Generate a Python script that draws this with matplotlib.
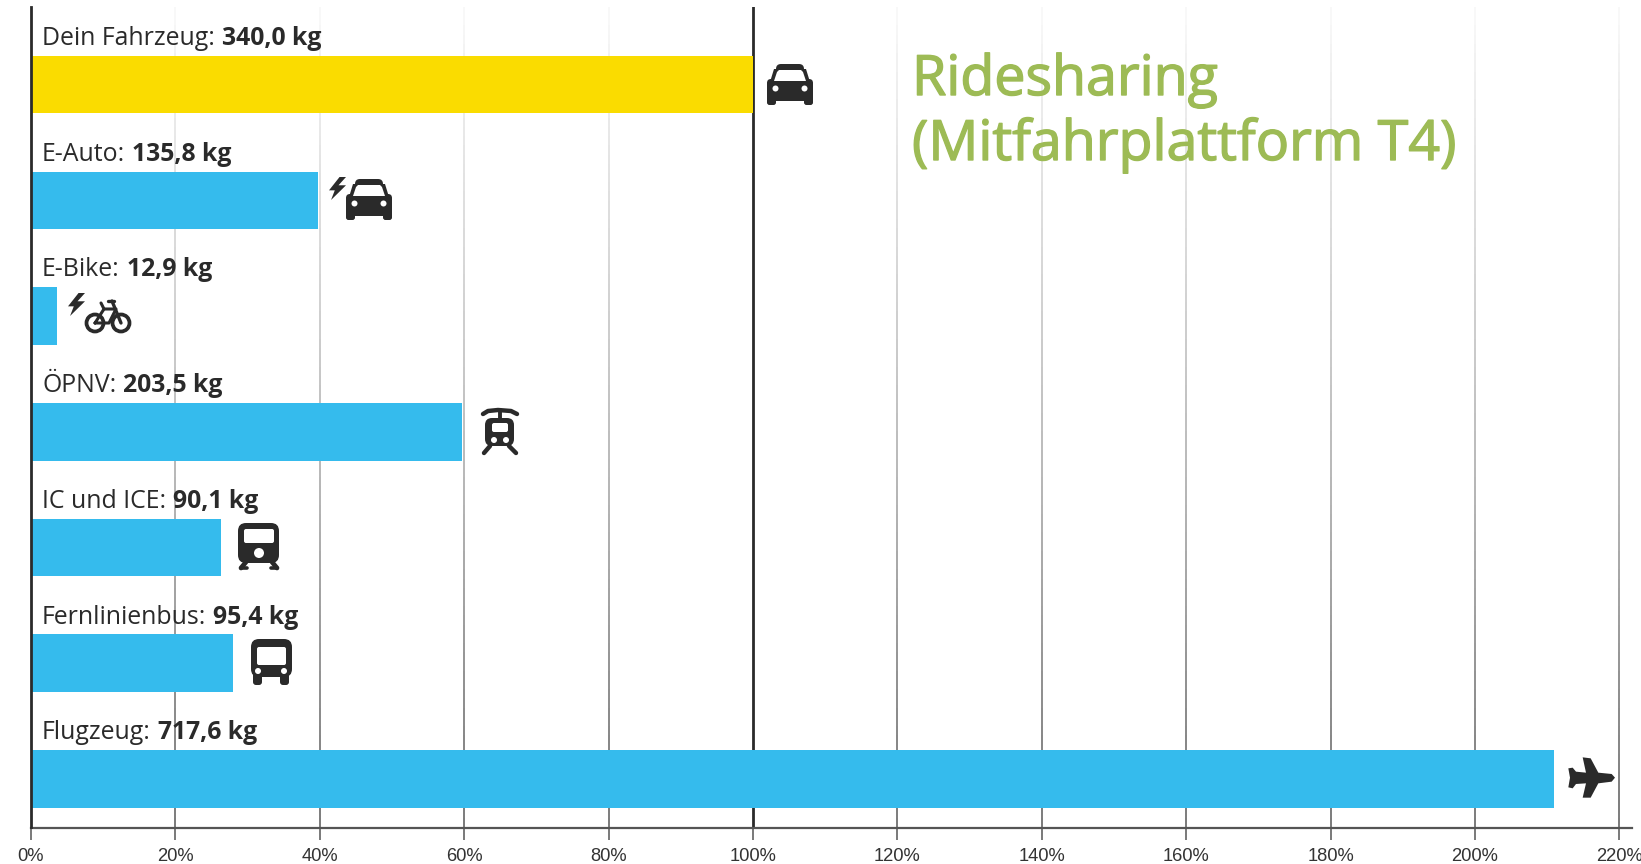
import numpy as np
import matplotlib
matplotlib.use("Agg")
import matplotlib.pyplot as plt
import matplotlib.patheffects as pe
from matplotlib.collections import LineCollection
from matplotlib.patches import Polygon, Circle, FancyBboxPatch

categories = ["Dein Fahrzeug", "E-Auto", "E-Bike", "ÖPNV", "IC und ICE", "Fernlinienbus", "Flugzeug"]
kg_values = [340.0, 135.8, 12.9, 203.5, 90.1, 95.4, 717.6]
kg_labels = ["340,0 kg", "135,8 kg", "12,9 kg", "203,5 kg", "90,1 kg", "95,4 kg", "717,6 kg"]
percent_values = [100.0, 39.75, 3.65, 59.7, 26.35, 28.0, 211.0]
bar_colors = ["#FADC00", "#35BBED", "#35BBED", "#35BBED", "#35BBED", "#35BBED", "#35BBED"]
x_ticks = list(range(0, 221, 20))
x_tick_labels = [f"{t}%" for t in x_ticks]
title_lines = ["Ridesharing", "(Mitfahrplattform T4)"]

W, H = 1641, 864
DARK = "#2a2a2a"
fig = plt.figure(figsize=(W / 100, H / 100), dpi=100, facecolor="white")

L, T, B = 31, 7, 827.5
R = 1632
ax = fig.add_axes([L / W, 1 - B / H, (R - L) / W, (B - T) / H])
ax.set_xlim(0, (R - L) / 7.22)
ax.set_ylim(B, T)
for s in ["top", "right"]:
    ax.spines[s].set_visible(False)
ax.spines["left"].set_color(DARK)
ax.spines["left"].set_linewidth(2.0)
ax.spines["left"].set_zorder(6)
ax.spines["bottom"].set_color("#555555")
ax.spines["bottom"].set_linewidth(1.6)
ax.set_yticks([])
ax.set_xticks(x_ticks)
ax.set_xticklabels(x_tick_labels, fontsize=13.2, family="Liberation Sans", color="#333333")
ax.tick_params(axis="x", length=8.5, width=1.1, color="#555555", pad=6.5)
ax.patch.set_alpha(0)

ys = np.linspace(T, B, 90)
for t in x_ticks[1:]:
    if t == 100:
        continue
    segs = [[(t, ys[i]), (t, ys[i + 1])] for i in range(len(ys) - 1)]
    frac = (ys[:-1] - T) / (B - T)
    g = np.interp(frac, [0, 0.08, 0.3, 0.6, 0.85, 1.0], [0.97, 0.92, 0.80, 0.62, 0.42, 0.33])
    ax.add_collection(LineCollection(segs, colors=[(v, v, v) for v in g], linewidths=1.1, zorder=1))
ax.axvline(100, color=DARK, lw=2.0, zorder=2)

row0_top, row_step, bar_h = 56, 115.7, 57.5
y_positions = [row0_top + bar_h / 2 + i * row_step for i in range(len(categories))]
ax.barh(y_positions, percent_values, height=bar_h, color=bar_colors, zorder=3)

fig.canvas.draw()
rend = fig.canvas.get_renderer()
for i, (cat, lab) in enumerate(zip(categories, kg_labels)):
    yb = 1 - (45 + i * row_step) / H
    t1 = fig.text(42 / W, yb, cat + ":", fontsize=17.9, family="Open Sans", color=DARK, va="baseline", zorder=8)
    ext = t1.get_window_extent(rend)
    fig.text((ext.x1 + 7) / W, yb, lab, fontsize=17.8, family="Open Sans", weight="bold", color=DARK, va="baseline", zorder=8)

GREEN = "#9DBB55"
thick = [pe.withStroke(linewidth=1.0, foreground=GREEN)]
fig.text(912 / W, 1 - 95 / H, title_lines[0], fontsize=40, family="Open Sans", color=GREEN, va="baseline", path_effects=thick)
fig.text(912 / W, 1 - 160 / H, title_lines[1], fontsize=40, family="Open Sans", color=GREEN, va="baseline", path_effects=thick)

ov = fig.add_axes([0, 0, 1, 1], zorder=10)
ov.set_xlim(0, W)
ov.set_ylim(H, 0)
ov.axis("off")
ov.patch.set_alpha(0)


def rrect(x0, y0, x1, y1, r, color=DARK):
    ov.add_patch(FancyBboxPatch((x0 + r, y0 + r), x1 - x0 - 2 * r, y1 - y0 - 2 * r,
                                boxstyle=f"round,pad={r},rounding_size={r}", fc=color, ec="none"))


def poly(pts, color=DARK):
    ov.add_patch(Polygon(pts, closed=True, fc=color, ec="none"))


def circ(x, y, r, color=DARK):
    ov.add_patch(Circle((x, y), r, fc=color, ec="none"))


def car(x0, y0):
    X = lambda v: x0 + v
    Y = lambda v: y0 + v
    rrect(X(0), Y(30), X(9), Y(41), 2.5)
    rrect(X(37), Y(30), X(46), Y(41), 2.5)
    rrect(X(0), Y(15), X(46), Y(37), 4)
    rrect(X(9), Y(0), X(37), Y(12), 5)
    poly([(X(3), Y(18)), (X(7), Y(5)), (X(39), Y(5)), (X(43), Y(18))])
    poly([(X(7), Y(17)), (X(10), Y(8)), (X(12), Y(6)), (X(34), Y(6)), (X(36), Y(8)), (X(39), Y(17))], "white")
    circ(X(8.5), Y(24.5), 3.0, "white")
    circ(X(37.5), Y(24.5), 3.0, "white")


def bolt(x0, y0, w, h):
    pts = [(0.62, 0), (0, 0.58), (0.34, 0.58), (0.12, 1), (1, 0.36), (0.56, 0.36), (1, 0.0)]
    poly([(x0 + a * w, y0 + b * h) for a, b in pts])


def line(xs, ys_, lw=2.6):
    ov.plot(xs, ys_, color=DARK, lw=lw, solid_capstyle="round", solid_joinstyle="round")


car(767, 64)
bolt(329, 177, 17, 23)
car(346, 179)
bolt(68, 293, 17, 23)
for cx in (95, 121):
    ov.add_patch(Circle((cx, 323), 8.5, fc="none", ec=DARK, lw=2.7))
line([95, 104, 116, 109, 95], [323, 309, 309, 323, 323], 2.2)
line([104, 101], [309, 303], 2.2)
line([112, 121], [301, 323], 2.4)
line([108, 114], [301, 301], 2.4)
line([483, 488, 498, 511, 517], [414, 411, 410, 411, 414], 3.2)
line([499.5, 499.5], [410, 420], 2.8)
rrect(485, 418, 514, 446, 7)
rrect(492, 423, 508, 432, 2, "white")
circ(494, 440, 3, "white")
circ(506, 440, 3, "white")
line([490, 484], [446, 453], 3.2)
line([509, 516], [446, 453], 3.2)
rrect(238, 523, 279, 563, 8)
rrect(244, 529, 274, 543, 2, "white")
circ(259, 553, 5, "white")
line([246, 241], [562, 568], 3.4)
line([272, 277], [562, 568], 3.4)
line([241, 247], [568, 568], 2.6)
line([271, 277], [568, 568], 2.6)
rrect(251, 639, 292, 677, 8)
rrect(257, 647, 286, 665, 2, "white")
rrect(253, 672, 262, 685, 3)
rrect(280, 672, 289, 685, 3)
circ(258, 671, 3, "white")
circ(284, 671, 3, "white")
plane = [(945, 233), (935, 222), (895, 218), (872, 175), (848, 172), (858, 218), (828, 215), (818, 203),
         (805, 205), (810, 233), (805, 262), (818, 265), (828, 252), (858, 250), (848, 293), (872, 293),
         (895, 250), (935, 245)]
poly([(1300 + a / 3, 700 + b / 3) for a, b in plane])

fig.savefig("out.png", dpi=100)
